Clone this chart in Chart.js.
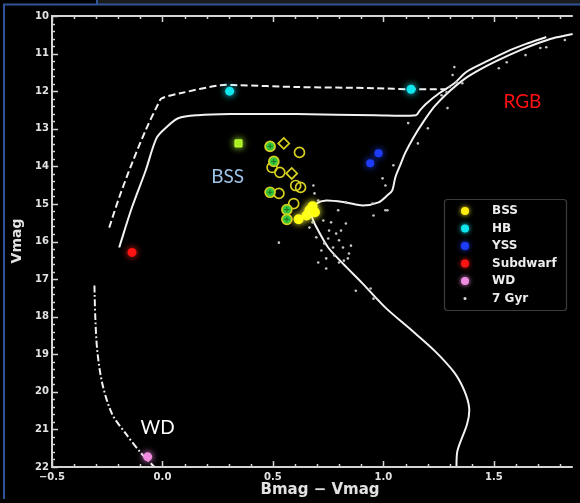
<!DOCTYPE html>
<html>
<head>
<meta charset="utf-8">
<script src="https://cdn.jsdelivr.net/npm/chart.js@4.4.1/dist/chart.umd.min.js"></script>
<style>
  html, body { margin: 0; padding: 0; background: #000; }
  canvas { display: block; }
</style>
</head>
<body>
<canvas id="cmd" width="580" height="503"></canvas>
<script>
// ---- axis ticks ----
const xTickValues = [-0.5, 0.0, 0.5, 1.0, 1.5];
const yTickValues = [10, 11, 12, 13, 14, 15, 16, 17, 18, 19, 20, 21, 22];

// ---- 7 Gyr isochrone: main sequence -> turnoff -> subgiant -> red giant branch ----
const isoMain = [
  [1.330, 22.05], [1.335, 21.57], [1.379, 20.85], [1.388, 20.43], [1.366, 19.97],
  [1.321, 19.49], [1.232, 18.91], [1.129, 18.37], [1.009, 17.76], [0.906, 17.12],
  [0.817, 16.59], [0.750, 16.16], [0.705, 15.71], [0.679, 15.39], [0.674, 15.17],
  [0.696, 14.99], [0.741, 14.91], [0.830, 14.96], [0.906, 15.04], [0.978, 14.96],
  [1.018, 14.77], [1.040, 14.64], [1.054, 14.29], [1.076, 13.97], [1.098, 13.65],
  [1.134, 13.25], [1.179, 12.83], [1.232, 12.40], [1.299, 12.00], [1.366, 11.68],
  [1.442, 11.41], [1.522, 11.17], [1.612, 10.93], [1.701, 10.72], [1.768, 10.59],
  [1.857, 10.48]
];

// horizontal branch and asymptotic giant branch (solid)
const isoHB = [
  [-0.196, 16.16], [-0.138, 15.09], [-0.076, 14.11], [-0.027, 13.25], [0.018, 12.96],
  [0.071, 12.72], [0.161, 12.64], [0.308, 12.61], [0.607, 12.61], [0.964, 12.64],
  [1.147, 12.64], [1.165, 12.51], [1.196, 12.32], [1.254, 12.05], [1.321, 11.79],
  [1.375, 11.49], [1.460, 11.23], [1.554, 10.96], [1.643, 10.75], [1.737, 10.56]
];

// zero-age horizontal branch (dashed)
const zahb = [
  [-0.241, 15.63], [-0.196, 14.83], [-0.138, 13.92], [-0.076, 13.04], [-0.018, 12.32],
  [-0.004, 12.19], [0.085, 12.05], [0.263, 11.84], [0.339, 11.84], [0.607, 11.89],
  [0.964, 11.92], [1.125, 11.95], [1.286, 11.95]
];

// white dwarf cooling sequence (dash-dot)
const wdCooling = [
  [-0.308, 17.17], [-0.304, 18.03], [-0.295, 18.91], [-0.272, 19.79], [-0.228, 20.59],
  [-0.165, 21.12], [-0.094, 21.65], [-0.031, 22.03]
];

// cluster members around the turnoff and giant branch
const memberStars = [
  [0.683, 14.51], [0.688, 14.72], [0.705, 14.91], [0.665, 15.63], [0.696, 15.89],
  [0.719, 16.24], [0.741, 16.45], [0.754, 15.71], [0.750, 15.92], [0.772, 16.16],
  [0.786, 15.79], [0.799, 15.97], [0.795, 15.17], [0.817, 16.16], [0.821, 16.51],
  [0.830, 15.52], [0.839, 16.45], [0.844, 16.32], [0.728, 15.44], [0.763, 15.49],
  [0.808, 15.71], [0.777, 16.37], [0.799, 16.56], [0.732, 16.05], [0.679, 15.49],
  [0.705, 16.56], [0.853, 16.11], [0.741, 16.72], [0.527, 16.03], [0.875, 17.31],
  [0.942, 17.25], [0.955, 17.52], [0.951, 14.99], [0.955, 15.31], [1.009, 15.17],
  [0.830, 14.96], [1.018, 15.17], [0.996, 14.32], [1.009, 14.51], [1.045, 13.97],
  [1.156, 13.39], [1.201, 12.99], [1.112, 12.85], [1.290, 12.45], [1.263, 12.11],
  [1.286, 12.03], [1.299, 11.89], [1.330, 11.76], [1.357, 11.79], [1.313, 11.57],
  [1.321, 11.36], [1.522, 11.39], [1.558, 11.23], [1.643, 11.04], [1.710, 10.85],
  [1.737, 10.83], [1.821, 10.64]
];

// blue stragglers, by symbol
const bssFilled  = [[0.616, 15.41], [0.652, 15.31], [0.665, 15.17], [0.679, 15.06], [0.690, 15.22]];
const bssOpen    = [[0.620, 13.63], [0.496, 14.03], [0.531, 14.16], [0.603, 14.51], [0.625, 14.56], [0.527, 14.72], [0.594, 14.99]];
const bssDiamond = [[0.549, 13.39], [0.585, 14.19]];
const bssGreen   = [[0.487, 13.47], [0.504, 13.87], [0.487, 14.69], [0.563, 15.15], [0.563, 15.41]];
const bssSquare  = [[0.344, 13.39]];

// other classified stars
const hbStars   = [[0.304, 12.00], [1.125, 11.95]];
const yssStars  = [[0.978, 13.65], [0.940, 13.92]];
const subdwarfs = [[-0.138, 16.29]];
const whiteDwarfs = [[-0.067, 21.73]];

// legend entries
const legendLabels = ['BSS', 'HB', 'YSS', 'Subdwarf', 'WD', '7 Gyr'];

// ---- helpers ----
const pts = arr => arr.map(([x, y]) => ({ x, y }));
const TICK_FONT = { family: 'DejaVu Sans', weight: 'bold', size: 10 };
const INK = '#e2e2e2';

function lineSet(label, arr, dash, order) {
  return {
    label, data: pts(arr), showLine: true, borderColor: '#f2f2f2', borderWidth: 2,
    borderDash: dash, tension: 0.3, pointRadius: 0, fill: false, order
  };
}
function markSet(label, arr, opts, order) {
  return Object.assign({ label, data: pts(arr), showLine: false, order }, opts);
}

const datasets = [
  lineSet('isochrone', isoMain, [], 20),
  lineSet('HB/AGB', isoHB, [], 21),
  lineSet('ZAHB', zahb, [7, 3.5], 22),
  lineSet('WD cooling', wdCooling, [7, 2.5, 1.8, 2.5], 23),
  markSet('7 Gyr', memberStars, { pointRadius: 1.3, pointBackgroundColor: '#c4c4c4', pointBorderWidth: 0 }, 15),
  markSet('BSS', bssFilled, { pointRadius: 5, pointBackgroundColor: '#ffff10', pointBorderWidth: 0, glow: '#ffff40' }, 5),
  markSet('BSS open', bssOpen, { pointRadius: 5, pointBackgroundColor: 'rgba(0,0,0,0)', pointBorderColor: '#d6d020', pointBorderWidth: 1.7 }, 6),
  markSet('BSS diamond', bssDiamond, { pointStyle: 'rectRot', pointRadius: 5.5, pointBackgroundColor: 'rgba(0,0,0,0)', pointBorderColor: '#d6d020', pointBorderWidth: 1.7 }, 6),
  markSet('BSS green', bssGreen, { pointRadius: 5, pointBackgroundColor: '#36c83a', pointBorderColor: '#d6d020', pointBorderWidth: 1.7 }, 4),
  markSet('BSS green mark', bssGreen, { pointStyle: 'cross', pointRadius: 2.5, pointBorderColor: '#1e6e22', pointBorderWidth: 1 }, 3),
  markSet('BSS square', bssSquare, { pointStyle: 'rect', pointRadius: 5, pointBackgroundColor: '#a6ec1e', pointBorderColor: '#c4ff3a', pointBorderWidth: 1, glow: '#b0ff30' }, 4),
  markSet('HB', hbStars, { pointRadius: 4.5, pointBackgroundColor: '#10e6ee', pointBorderWidth: 0, glow: '#20f0ff' }, 2),
  markSet('YSS', yssStars, { pointRadius: 4, pointBackgroundColor: '#1e3cff', pointBorderWidth: 0, glow: '#2040ff' }, 2),
  markSet('Subdwarf', subdwarfs, { pointRadius: 4.5, pointBackgroundColor: '#ff1414', pointBorderWidth: 0, glow: '#ff2020' }, 2),
  markSet('WD', whiteDwarfs, { pointRadius: 4.5, pointBackgroundColor: '#f08ce0', pointBorderWidth: 0, glow: '#ff90ee' }, 2)
];

const legendColors = ['#ffee10', '#10e6ee', '#1e3cff', '#ff1414', '#f08ce0', '#dddddd'];

// labels written on the diagram, anchored in data coordinates
const notes = [
  { text: 'BSS', x: 0.295, y: 14.27, color: '#9dc3e6' },
  { text: 'RGB', x: 1.629, y: 12.29, color: '#ff1010' },
  { text: 'WD',  x: -0.022, y: 20.96, color: '#ffffff' }
];

// ---- plugins ----
const backdrop = {
  id: 'backdrop',
  beforeDraw(chart) {
    const c = chart.ctx;
    c.save();
    c.fillStyle = '#000';
    c.fillRect(0, 0, chart.width, chart.height);
    c.fillStyle = '#1c1c1c';
    c.fillRect(97, 0, chart.width - 97, 4);
    c.restore();
  },
  afterDraw(chart) {
    const c = chart.ctx;
    c.save();
    c.strokeStyle = '#2f5597';
    c.lineWidth = 2;
    c.beginPath();
    c.moveTo(4, chart.height - 4);
    c.lineTo(4, 4.5);
    c.lineTo(chart.width, 4.5);
    c.moveTo(97, 0);
    c.lineTo(97, 4.5);
    c.stroke();
    c.restore();
  }
};

const glow = {
  id: 'glow',
  beforeDatasetDraw(chart, args) {
    const ds = chart.data.datasets[args.index];
    chart.ctx.save();
    if (ds.glow) {
      chart.ctx.shadowColor = ds.glow;
      chart.ctx.shadowBlur = 7;
    }
  },
  afterDatasetDraw(chart) {
    chart.ctx.restore();
  }
};

const frame = {
  id: 'frame',
  afterDatasetsDraw(chart) {
    const c = chart.ctx;
    const { left, right, top, bottom } = chart.chartArea;
    const xs = chart.scales.x, ys = chart.scales.y;

    // notes
    c.save();
    c.textAlign = 'center';
    c.textBaseline = 'middle';
    c.font = '19px Lato, "Open Sans", sans-serif';
    notes.forEach(n => {
      c.fillStyle = n.color;
      c.fillText(n.text, xs.getPixelForValue(n.x), ys.getPixelForValue(n.y));
    });
    c.restore();

    // spines and inward ticks
    c.save();
    c.strokeStyle = '#d4d4d4';
    c.lineWidth = 2;
    c.beginPath();
    c.moveTo(right, top); c.lineTo(left, top); c.lineTo(left, bottom); c.lineTo(right, bottom);
    c.stroke();
    c.lineWidth = 1.5;
    c.beginPath();
    for (let i = 0; i <= 60; i++) {
      const v = 10 + i * 0.2;
      const p = Math.round(ys.getPixelForValue(v)) + 0.5;
      const len = (i % 5 === 0) ? 6 : 3;
      c.moveTo(left, p); c.lineTo(left + len, p);
    }
    for (let i = -5; i <= 18; i++) {
      const v = i / 10;
      const p = Math.round(xs.getPixelForValue(v)) + 0.5;
      if (p > right) continue;
      const len = (i % 5 === 0) ? 6 : 3;
      c.moveTo(p, bottom); c.lineTo(p, bottom - len);
      c.moveTo(p, top); c.lineTo(p, top + len);
    }
    c.stroke();
    c.restore();

    // axis titles
    c.save();
    c.fillStyle = INK;
    c.font = 'bold 15px "DejaVu Sans", sans-serif';
    c.textAlign = 'center';
    c.textBaseline = 'middle';
    c.fillText('Bmag \u2212 Vmag', 320, 490);
    c.translate(17, 241);
    c.rotate(-Math.PI / 2);
    c.font = 'bold 14px "DejaVu Sans", sans-serif';
    c.fillText('Vmag', 0, 0);
    c.restore();

    // legend
    const bx = 444, by = 199, bw = 122, bh = 111;
    c.save();
    c.fillStyle = '#000';
    c.strokeStyle = '#3c3c3c';
    c.lineWidth = 1.2;
    c.beginPath();
    c.roundRect(bx + 0.5, by + 0.5, bw, bh, 3);
    c.fill();
    c.stroke();
    c.font = 'bold 12px "DejaVu Sans", sans-serif';
    c.textAlign = 'left';
    c.textBaseline = 'middle';
    legendLabels.forEach((lab, i) => {
      const yy = by + 12 + i * 17.5;
      c.fillStyle = legendColors[i];
      c.shadowColor = legendColors[i];
      c.shadowBlur = i < 5 ? 5 : 0;
      c.beginPath();
      c.arc(bx + 21, yy, i < 5 ? 4 : 1.5, 0, Math.PI * 2);
      c.fill();
      c.shadowBlur = 0;
      c.fillStyle = '#ececec';
      c.fillText(lab, bx + 48, yy);
    });
    c.restore();
  }
};

new Chart(document.getElementById('cmd'), {
  type: 'scatter',
  data: { datasets },
  options: {
    responsive: false,
    animation: false,
    events: [],
    layout: { padding: { top: 16, right: 0, left: 0, bottom: 0 } },
    plugins: { legend: { display: false }, tooltip: { enabled: false } },
    scales: {
      x: {
        type: 'linear', position: 'bottom', min: -0.5, max: 1.857,
        afterFit: s => { s.height = 36; },
        afterBuildTicks: s => { s.ticks = xTickValues.map(v => ({ value: v })); },
        grid: { display: false, drawTicks: false },
        border: { display: false },
        ticks: {
          color: INK, font: TICK_FONT, padding: 4, maxRotation: 0, autoSkip: false,
          callback: v => (v < 0 ? '\u2212' : '') + Math.abs(v).toFixed(1)
        }
      },
      y: {
        type: 'linear', reverse: true, min: 10, max: 22,
        afterFit: s => { s.width = 52; },
        afterBuildTicks: s => { s.ticks = yTickValues.map(v => ({ value: v })); },
        grid: { display: false, drawTicks: false },
        border: { display: false },
        ticks: { color: INK, font: TICK_FONT, padding: 3, autoSkip: false, callback: v => String(v) }
      }
    }
  },
  plugins: [backdrop, glow, frame]
});
</script>
</body>
</html>
